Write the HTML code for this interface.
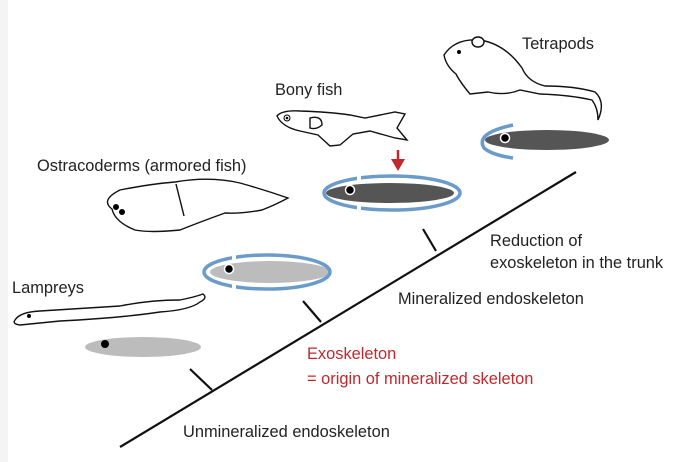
<!DOCTYPE html>
<html><head><style>
body{margin:0;background:#fff;}
svg{display:block;font-family:"Liberation Sans",sans-serif;}
</style></head><body>
<svg width="683" height="462" viewBox="0 0 683 462">
<rect width="683" height="462" fill="#fff"/>
<rect x="0" y="0" width="8" height="462" fill="#f4f4f4"/>
<!-- main line -->
<g stroke="#111" stroke-width="2.2" fill="none">
<line x1="120" y1="447" x2="576" y2="172"/>
<line x1="190" y1="369" x2="212" y2="390"/>
<line x1="303" y1="301" x2="321" y2="322"/>
<line x1="423" y1="229" x2="436" y2="251"/>
</g>
<!-- lamprey ellipse -->
<ellipse cx="143" cy="347" rx="58" ry="10" fill="#bcbcbc"/>
<circle cx="105" cy="344" r="4" fill="#000"/>
<!-- ostracoderm -->
<ellipse cx="270" cy="272" rx="60" ry="11" fill="#bcbcbc"/>
<ellipse cx="267" cy="272" rx="63" ry="17" stroke="#6a9bc9" stroke-width="3.5" fill="none"/>
<rect x="232" y="250" width="4" height="10" fill="#fff"/>
<rect x="232" y="284" width="4" height="10" fill="#fff"/>
<circle cx="229" cy="269" r="4.5" fill="#000" stroke="#fff" stroke-width="1.5"/>
<!-- bony fish -->
<ellipse cx="390" cy="193" rx="64" ry="10" fill="#555"/>
<ellipse cx="392" cy="193" rx="68" ry="17" stroke="#6a9bc9" stroke-width="3.5" fill="none"/>
<rect x="357" y="171" width="4" height="10" fill="#fff"/>
<rect x="357" y="205" width="4" height="10" fill="#fff"/>
<circle cx="350" cy="190" r="4.5" fill="#000" stroke="#fff" stroke-width="1.5"/>
<path d="M398 150 L398 163" stroke="#c0282d" stroke-width="2.5"/>
<path d="M391 159 L398 171 L405 159 Z" fill="#c0282d"/>
<!-- tetrapod -->
<ellipse cx="547" cy="140" rx="62" ry="10" fill="#555"/>
<path d="M513 125 Q475 133 484 148 Q492 155 513 158" stroke="#6a9bc9" stroke-width="3.5" fill="none"/>
<circle cx="505" cy="138" r="4.5" fill="#000" stroke="#fff" stroke-width="1.5"/>
<!-- animals -->
<g stroke="#111" stroke-width="1.4" fill="#fff">
<path d="M15 320 Q20 312 40 311 L120 306 Q150 300 180 300 Q195 297 203 294 Q208 298 200 302 Q190 310 160 312 Q120 318 60 321 Q40 323 20 325 Q12 324 15 320Z"/>
<path d="M112 209 Q100 200 120 190 Q150 184 175 182 Q210 176 240 183 Q265 190 288 198 Q275 205 262 210 Q240 214 225 213 Q200 222 180 230 Q150 233 135 230 Q115 222 112 209Z"/>
<path d="M176 184 L184 216"/>
<path d="M277 116 Q282 110 300 111 Q330 112 350 115 L365 118 L395 112 L405 114 L397 128 L407 140 L395 138 L370 131 L353 134 L340 145 L330 146 L318 135 L300 131 Q282 127 277 116 Z"/>
<path d="M310 118 Q322 115 322 125 Q316 130 310 128 Z"/>
<path d="M444 55 Q455 38 480 40 Q505 44 522 68 Q528 82 545 86 Q575 86 595 92 Q606 102 598 120 Q598 108 592 100 Q570 95 540 94 L520 90 Q505 96 488 92 L470 94 Q460 82 456 74 Q446 66 444 55Z"/>
<ellipse cx="478" cy="42" rx="6" ry="5"/>
</g>
<circle cx="116" cy="207" r="3" fill="#000"/><circle cx="122" cy="212" r="3" fill="#000"/>
<circle cx="287" cy="118" r="3" fill="#fff" stroke="#000"/><circle cx="287" cy="118" r="1.3" fill="#000"/>
<circle cx="29" cy="316" r="2" fill="#000"/>
<circle cx="459" cy="52" r="2" fill="#000"/>
<!-- labels -->
<g font-size="16.4" fill="#222">
<text x="522" y="49">Tetrapods</text>
<text x="275" y="95">Bony fish</text>
<text x="37" y="171">Ostracoderms (armored fish)</text>
<text x="12" y="293">Lampreys</text>
<text x="490" y="246">Reduction of</text>
<text x="490" y="268">exoskeleton in the trunk</text>
<text x="398" y="304">Mineralized endoskeleton</text>
<text x="183" y="437">Unmineralized endoskeleton</text>
<text x="307" y="359" fill="#c0282d">Exoskeleton</text>
<text x="307" y="384" fill="#c0282d">= origin of mineralized skeleton</text>
</g>
</svg>
</body></html>
